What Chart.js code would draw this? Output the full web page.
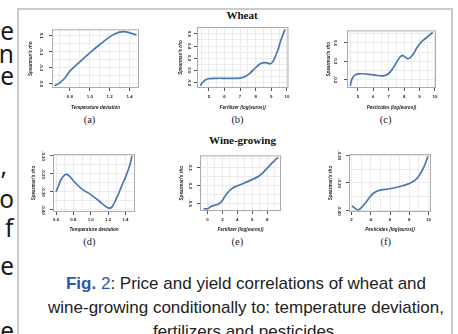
<!DOCTYPE html>
<html>
<head>
<meta charset="utf-8">
<script src="https://cdn.jsdelivr.net/npm/chart.js@4.4.0/dist/chart.umd.min.js"></script>
<style>
  body { margin: 0; background: #fff; }
  #page { position: relative; width: 458px; height: 334px; overflow: hidden; background: #fff; }
  #frame { position: absolute; left: 17px; top: 8px; width: 432px; height: 360px; border: 2px solid #cacaca; }
  #side { position: absolute; left: 0; top: 0; }
  #side text { font-family: "Noto Sans", sans-serif; font-size: 24.5px; fill: #1a1a1a; }
  canvas { position: absolute; }
  .head { position: absolute; font-family: "Liberation Serif", serif; font-weight: bold; font-size: 11px; line-height: 11px; color: #111; transform: translateX(-50%); white-space: nowrap; }
  .sub { position: absolute; font-family: "Liberation Serif", serif; font-size: 10.5px; line-height: 10.5px; color: #222; transform: translateX(-50%); }
  #caption { position: absolute; left: 36px; width: 420px; top: 272px; text-align: center; white-space: nowrap;
             font-family: "Liberation Sans", sans-serif; font-size: 17px; line-height: 24px; color: #222; }
  #caption .fig { color: #2f57a5; }
</style>
</head>
<body>
<div id="page">
  <svg id="side" width="20" height="334">
    <text x="14" y="39.6" text-anchor="end">e</text>
    <text x="14" y="62.6" text-anchor="end">n</text>
    <text x="14" y="84.6" text-anchor="end">e</text>
    <text x="7" y="175" text-anchor="end">,</text>
    <text x="14" y="207.6" text-anchor="end">o</text>
    <text x="13.5" y="237.3" text-anchor="end">f</text>
    <text x="14" y="274.6" text-anchor="end">e</text>
    <text x="14" y="339.8" text-anchor="end">e</text>
  </svg>

  <div id="frame"></div>

  <div class="head" style="left:242px; top:10.4px">Wheat</div>
  <div class="head" style="left:242.5px; top:135.4px">Wine-growing</div>

  <div class="sub" style="left:89.5px; top:114.5px">(a)</div>
  <div class="sub" style="left:237.5px; top:114.5px">(b)</div>
  <div class="sub" style="left:385.7px; top:114.5px">(c)</div>
  <div class="sub" style="left:89.3px; top:237px">(d)</div>
  <div class="sub" style="left:237.3px; top:237px">(e)</div>
  <div class="sub" style="left:385.7px; top:237px">(f)</div>

  <div id="caption"><span class="fig"><b>Fig.</b> 2</span>: Price and yield correlations of wheat and<br>wine-growing conditionally to: temperature deviation,<br>fertilizers and pesticides.</div>
</div>

<script>
// values

// (a) wheat vs temperature deviation
const aX = [0.645, 0.70, 0.75, 0.80, 0.90, 1.00, 1.10, 1.20, 1.25, 1.30, 1.35, 1.40, 1.47];
const aY = [-0.530, -0.490, -0.432, -0.345, -0.228, -0.115, -0.012, 0.085, 0.122, 0.146, 0.152, 0.136, 0.110];
const aXTicks = ['0.8', '1.0', '1.2', '1.4'];
const aYTicks = ['0.1', '-0.1', '-0.3', '-0.5'];

// (b) wheat vs fertilizer
const bX = [4.46, 4.60, 4.80, 5.05, 5.50, 6.00, 6.50, 7.00, 7.30, 7.65, 8.00, 8.35, 8.65, 8.95, 9.15, 9.40, 9.62, 9.88];
const bY = [-0.255, -0.200, -0.155, -0.138, -0.132, -0.132, -0.133, -0.128, -0.108, -0.045, 0.045, 0.115, 0.127, 0.107, 0.165, 0.320, 0.500, 0.677];
const bXTicks = ['5', '6', '7', '8', '9', '10'];
const bYTicks = ['0.6', '0.4', '0.2', '0.0', '-0.2'];

// (c) wheat vs pesticides
const cX = [4.50, 4.63, 4.84, 5.15, 5.60, 6.10, 6.65, 6.98, 7.30, 7.62, 7.85, 8.05, 8.27, 8.55, 8.85, 9.12, 9.45, 9.86];
const cY = [-0.340, -0.175, -0.095, -0.075, -0.082, -0.105, -0.120, -0.075, 0.060, 0.235, 0.325, 0.300, 0.255, 0.335, 0.505, 0.625, 0.715, 0.830];
const cXTicks = ['5', '6', '7', '8', '9', '10'];
const cYTicks = ['0.6', '0.2', '-0.2'];

// (d) wine-growing vs temperature deviation
const dX = [0.60, 0.63, 0.66, 0.70, 0.725, 0.76, 0.82, 0.90, 1.00, 1.10, 1.16, 1.20, 1.24, 1.30, 1.355, 1.41, 1.45, 1.475];
const dY = [-0.300, -0.265, -0.230, -0.206, -0.203, -0.215, -0.249, -0.285, -0.316, -0.353, -0.377, -0.390, -0.387, -0.333, -0.270, -0.207, -0.152, -0.100];
const dXTicks = ['0.6', '0.8', '1.0', '1.2', '1.4'];
const dYTicks = ['-0.10', '-0.20', '-0.30', '-0.40'];

// (e) wine-growing vs fertilizer
const eX = [-0.54, 0.00, 0.46, 1.00, 1.50, 1.93, 2.37, 2.90, 3.45, 3.96, 4.95, 5.97, 6.96, 8.00, 8.98, 9.47];
const eY = [-0.560, -0.563, -0.537, -0.522, -0.511, -0.478, -0.420, -0.365, -0.328, -0.310, -0.275, -0.238, -0.195, -0.110, -0.025, 0.010];
const eXTicks = ['0', '2', '4', '6', '8'];
const eYTicks = ['-0.1', '-0.3', '-0.5'];

// (f) wine-growing vs pesticides
const fX = [2.06, 2.34, 2.69, 2.97, 3.49, 3.98, 4.43, 4.99, 6.00, 7.01, 8.02, 8.54, 9.03, 9.52, 9.94];
const fY = [-0.382, -0.391, -0.397, -0.391, -0.370, -0.348, -0.334, -0.326, -0.321, -0.313, -0.302, -0.292, -0.273, -0.242, -0.204];
const fXTicks = ['2', '4', '6', '8', '10'];
const fYTicks = ['-0.20', '-0.30', '-0.40'];

const TEMP = 'Temperature deviation';
const FERT = 'Fertilizer (log(euros))';
const PEST = 'Pesticides (log(euros))';
const RHO = "Spearman's rho";

const FONT = '"Liberation Sans", Arial, sans-serif';
const LINE = '#4a78ad';
const GRID = '#ebebeb';
const BOX = '#aaaaaa';
const TICK = '#555555';
const TXT = '#1e1e1e';

// box = plot area on the page, xr/yr = axis ranges, xs/ys = grid spacing
const panels = [
  { x: aX, y: aY, xt: aXTicks, yt: aYTicks, xTitle: TEMP, box: [52, 27, 139, 88],  xr: [0.62, 1.495],  yr: [-0.558, 0.18],  xs: 0.1, ys: 0.1,  gap: 10.5, yTitleX: 30.5,  xLabY: 97.2,  xTitleY: 107.7 },
  { x: bX, y: bY, xt: bXTicks, yt: bYTicks, xTitle: FERT, box: [197, 27, 289, 88], xr: [4.24, 10.1],   yr: [-0.292, 0.714], xs: 0.5, ys: 0.1,  gap: 7.5,  yTitleX: 181,   xLabY: 97.2,  xTitleY: 107.7 },
  { x: cX, y: cY, xt: cXTicks, yt: cYTicks, xTitle: PEST, box: [347, 27, 437, 88], xr: [4.29, 10.07],  yr: [-0.387, 0.877], xs: 0.5, ys: 0.2,  gap: 11.5, yTitleX: 328.5, xLabY: 97.2,  xTitleY: 107.7 },
  { x: dX, y: dY, xt: dXTicks, yt: dYTicks, xTitle: TEMP, box: [53, 154, 135, 212], xr: [0.565, 1.51], yr: [-0.413, -0.09], xs: 0.1, ys: 0.05, gap: 9.5,  yTitleX: 33.3,  xLabY: 219.5, xTitleY: 229.5 },
  { x: eX, y: eY, xt: eXTicks, yt: eYTicks, xTitle: FERT, box: [200, 154, 281, 211], xr: [-1.0, 9.85], yr: [-0.588, 0.033], xs: 1,   ys: 0.1,  gap: 9.5,  yTitleX: 182,   xLabY: 219.5, xTitleY: 229.5 },
  { x: fX, y: fY, xt: fXTicks, yt: fYTicks, xTitle: PEST, box: [349, 154, 431, 212], xr: [1.745, 10.255], yr: [-0.405, -0.196], xs: 1, ys: 0.05, gap: 9.5, yTitleX: 331,  xLabY: 219.5, xTitleY: 229.5 }
];

const tickFont = { family: FONT, size: 4.4, weight: 'bold', lineHeight: 1.2 };
const titleFont = { family: FONT, size: 4.6, weight: 'bold', style: 'italic', lineHeight: 1.2 };

function gridValues(min, max, step) {
  const out = [];
  for (let k = Math.ceil(min / step - 1e-9); k * step <= max + 1e-9; k++) out.push(+(k * step).toFixed(6));
  return out;
}
function labelFor(v, labels) {
  const s = labels.find(l => Math.abs(parseFloat(l) - v) < 1e-6);
  return s === undefined ? '' : s;
}

const measure = document.createElement('canvas').getContext('2d');
measure.font = 'bold 4.4px ' + FONT;

// R style box around the plot region
const boxPlugin = {
  id: 'box',
  beforeDatasetsDraw(chart) {
    const { ctx, chartArea: a } = chart;
    ctx.save();
    ctx.strokeStyle = BOX;
    ctx.lineWidth = 1;
    ctx.strokeRect(a.left + 0.5, a.top + 0.5, a.right - a.left - 1, a.bottom - a.top - 1);
    ctx.restore();
  }
};

const page = document.getElementById('page');

panels.forEach(p => {
  const [l, t, r, b] = p.box;
  const W = r - l + 34, H = b - t + 30;
  const cv = document.createElement('canvas');
  cv.width = W; cv.height = H;
  cv.style.left = (l - 30) + 'px';
  cv.style.top = (t - 4) + 'px';
  cv.style.width = W + 'px';
  cv.style.height = H + 'px';
  page.appendChild(cv);

  const widest = Math.max(...p.yt.map(s => measure.measureText(s).width));
  const yPad = p.gap - 3 - widest / 2;
  const xPad = p.xLabY - b - 5.6;
  const xTitlePad = (b + 26) - p.xTitleY - 2.76;
  const yTitlePad = (p.yTitleX - (l - 30)) - 2.76;

  new Chart(cv, {
    type: 'line',
    data: {
      datasets: [{
        data: p.x.map((x, i) => ({ x: x, y: p.y[i] })),
        borderColor: LINE,
        borderWidth: 1.7,
        pointRadius: 0,
        tension: 0.4,
        fill: false
      }]
    },
    options: {
      responsive: false,
      animation: false,
      events: [],
      layout: { padding: { left: 0, top: 4, right: 4, bottom: 0 } },
      plugins: { legend: { display: false }, tooltip: { enabled: false } },
      scales: {
        x: {
          type: 'linear',
          min: p.xr[0], max: p.xr[1],
          afterBuildTicks: s => { s.ticks = gridValues(p.xr[0], p.xr[1], p.xs).map(v => ({ value: v })); },
          afterFit: s => { s.height = 26; },
          border: { display: false },
          grid: {
            color: GRID, lineWidth: 1, tickLength: 3,
            tickColor: c => labelFor(c.tick.value, p.xt) ? TICK : 'rgba(0,0,0,0)'
          },
          ticks: {
            autoSkip: false, minRotation: 0, maxRotation: 0, padding: xPad,
            font: tickFont, color: TXT,
            callback: v => labelFor(v, p.xt)
          },
          title: { display: true, text: p.xTitle, font: titleFont, color: TXT, padding: { top: 0, bottom: xTitlePad } }
        },
        y: {
          type: 'linear',
          min: p.yr[0], max: p.yr[1],
          afterBuildTicks: s => { s.ticks = gridValues(p.yr[0], p.yr[1], p.ys).map(v => ({ value: v })); },
          afterFit: s => { s.width = 30; },
          border: { display: false },
          grid: {
            color: GRID, lineWidth: 1, tickLength: 3,
            tickColor: c => labelFor(c.tick.value, p.yt) ? TICK : 'rgba(0,0,0,0)'
          },
          ticks: {
            autoSkip: false, minRotation: -90, maxRotation: -90, crossAlign: 'center', padding: yPad,
            font: tickFont, color: TXT,
            callback: v => labelFor(v, p.yt)
          },
          title: { display: true, text: RHO, font: titleFont, color: TXT, padding: { top: yTitlePad, bottom: 0 } }
        }
      }
    },
    plugins: [boxPlugin]
  });
});
</script>
</body>
</html>
